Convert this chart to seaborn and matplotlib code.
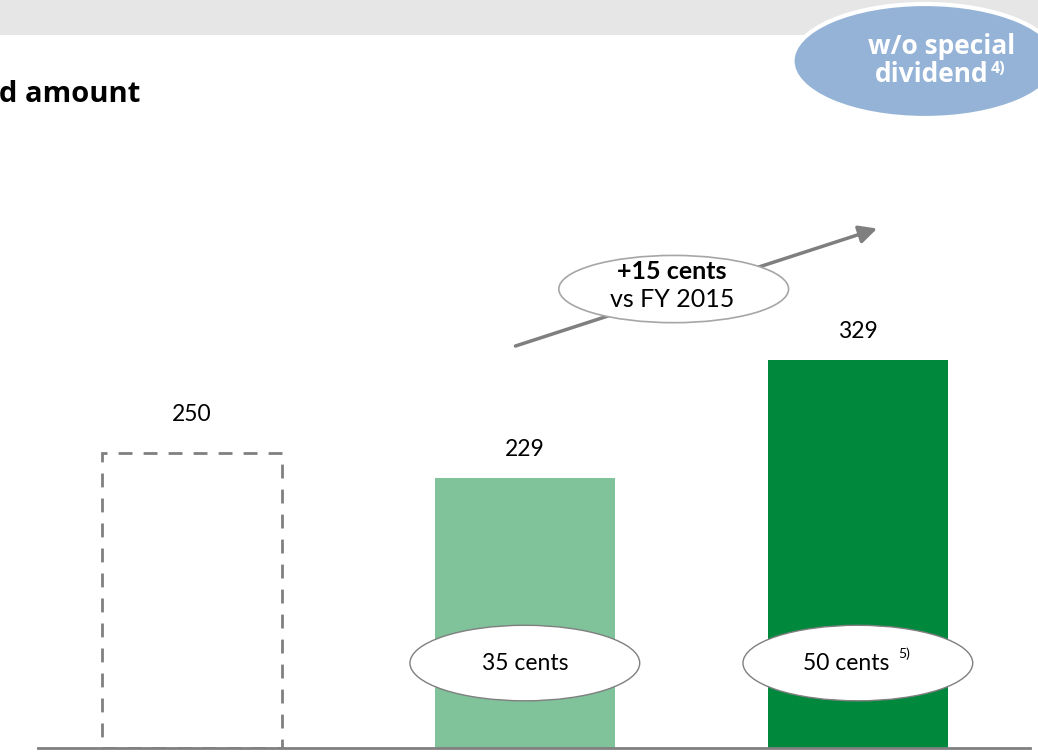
import matplotlib.pyplot as plt
import seaborn as sns
import pandas as pd
from matplotlib.patches import Ellipse, Rectangle

# Werte
periods = ["Plan", "FY 2015", "FY 2016"]
amounts = [250, 229, 329]
cents = [None, "35 cents", "50 cents"]
cents_notes = [None, None, "5)"]
bar_colors = ["#ffffff", "#80c29a", "#00893d"]

df = pd.DataFrame({"period": periods, "amount": amounts})

sns.set_theme(style="white")
plt.rcParams["font.family"] = ["Lato", "DejaVu Sans"]
plt.rcParams["text.color"] = "black"

fig = plt.figure(figsize=(10.38, 7.53), dpi=100)
ax = fig.add_axes([38 / 1038, 5 / 753, 992 / 1038, 748 / 753])
ax.set_facecolor("none")

sns.barplot(data=df, x="period", y="amount", hue="period", palette=bar_colors,
            width=0.54, legend=False, ax=ax, saturation=1)

# erster Balken nur gestrichelt umrandet
first = ax.patches[0]
first.set_facecolor("none")
first.set_edgecolor("#808080")
first.set_linestyle((0, (5, 4)))
first.set_linewidth(2)
for p in ax.patches[1:]:
    p.set_edgecolor("none")

ax.set_xlim(-0.462, 2.517)
ax.set_ylim(0, 634)
ax.set_xticks([])
ax.set_yticks([])
ax.set_xlabel("")
ax.set_ylabel("")
for s in ["top", "left", "right"]:
    ax.spines[s].set_visible(False)
ax.spines["bottom"].set_color("#808080")
ax.spines["bottom"].set_linewidth(2)

# Werte über den Balken
for i, v in enumerate(amounts):
    off = 33 if i == 0 else 24
    ax.text(i, v + off, f"{v}", ha="center", va="center", fontsize=16.5)

# Ellipsen mit Cent-Beträgen
for i, lab in enumerate(cents):
    if lab is None:
        continue
    ax.add_patch(Ellipse((i, 72), 0.69, 64, facecolor="white", edgecolor="#7f7f7f", lw=1, zorder=4))
    if cents_notes[i]:
        ax.text(i - 0.035, 72, lab, ha="center", va="center", fontsize=16.5, zorder=5)
        ax.text(i + 0.14, 80, cents_notes[i], ha="center", va="center", fontsize=10, zorder=5)
    else:
        ax.text(i, 72, lab, ha="center", va="center", fontsize=16.5, zorder=5)

# Pfeil mit Ellipse
ax.annotate("", xy=(2.066, 441), xytext=(0.964, 340),
            arrowprops=dict(arrowstyle="-|>,head_length=0.9,head_width=0.45", color="#7f7f7f", lw=2.5))
ax.add_patch(Ellipse((1.447, 389), 0.69, 57, facecolor="white", edgecolor="#a6a6a6", lw=1.2, zorder=4))
ax.text(1.442, 404, "+15 cents", ha="center", va="center", fontsize=18, fontweight="bold", zorder=5)
ax.text(1.442, 380, "vs FY 2015", ha="center", va="center", fontsize=18, zorder=5)

# grauer Streifen oben
fig.add_artist(Rectangle((0, 1 - 35 / 753), 1, 35 / 753, transform=fig.transFigure,
                         facecolor="#e6e6e6", edgecolor="none", zorder=-1))

# Titel (abgeschnitten wie im Original)
fig.text(-0.001, 1 - 95 / 753, "d amount", ha="left", va="center", fontsize=21,
         fontweight="bold", family="Open Sans")

# blaue Ellipse rechts oben
fig.add_artist(Ellipse((925 / 1038, 1 - 61 / 753), 265 / 1038, 114 / 753, transform=fig.transFigure,
                       facecolor="#95b3d7", edgecolor="white", lw=3, zorder=6))
fig.text(942 / 1038, 1 - 46 / 753, "w/o special", ha="center", va="center", fontsize=19,
         fontweight="bold", color="white", family="Open Sans", zorder=7)
fig.text(932 / 1038, 1 - 74 / 753, "dividend", ha="center", va="center", fontsize=19,
         fontweight="bold", color="white", family="Open Sans", zorder=7)
fig.text(998 / 1038, 1 - 69 / 753, "4)", ha="center", va="center", fontsize=11.5,
         fontweight="bold", color="white", family="Open Sans", zorder=7)

fig.savefig("out.png", dpi=100)
